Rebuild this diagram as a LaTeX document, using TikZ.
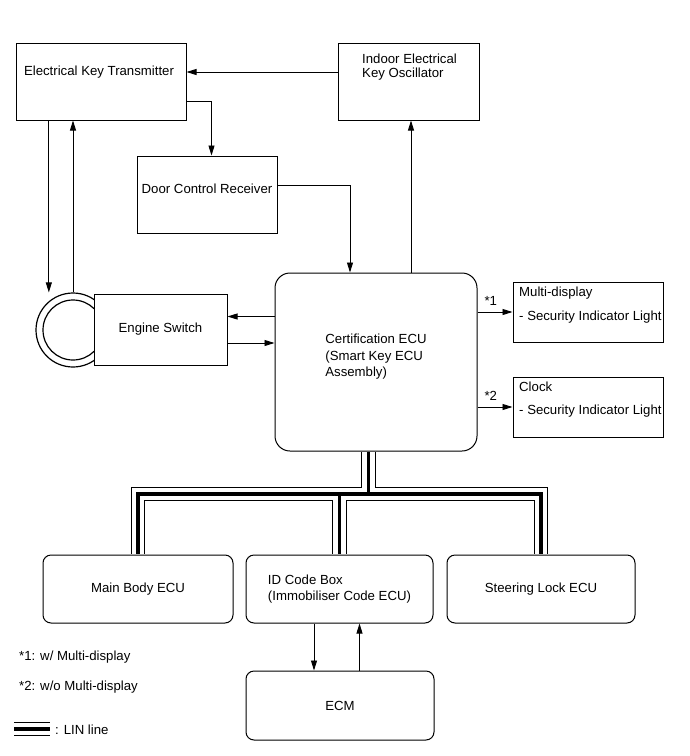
\documentclass[tikz,border=0pt]{standalone}
\usepackage{fontspec}
\setmainfont{Liberation Sans}
\usetikzlibrary{arrows.meta}

\begin{document}
\begin{tikzpicture}[
    x=1pt, y=-1pt,
    every node/.style={font=\fontsize{13.2}{16.5}\selectfont},
    box/.style={draw, line width=1pt, fill=white, inner sep=0pt},
    rbox/.style={box, rounded corners=8pt, align=left},
    txt/.style={inner sep=0pt, align=left},
    ringline/.style={draw, circle, line width=1.2pt, inner sep=0pt},
    flow/.style={-{Triangle[length=10pt, width=6pt]}, line width=0.9pt},
    lin/.style={line width=3.6pt, preaction={draw, line width=14.6pt}, preaction={draw, white, line width=12.4pt}}
]
\useasboundingbox (0,0) rectangle (690,756);

% upper blocks
\node[box, minimum width=170pt, minimum height=77pt] (ekt) at (101,81.5) {};
\node[txt] (ekt-t) at (99,72) {Electrical Key Transmitter};
\node[box, minimum width=141pt, minimum height=77pt] (osc) at (408.5,81.5) {};
\node[txt, anchor=west, font=\fontsize{13.2}{14}\selectfont] (osc-t) at (362,67.5) {Indoor Electrical\\Key Oscillator};
\node[box, minimum width=140pt, minimum height=77pt] (dcr) at (207,194.5) {};
\node[txt] (dcr-t) at (207,189) {Door Control Receiver};

% engine switch with key ring
\node[ringline, minimum size=74pt] (ring) at (73,330) {};
\node[ringline, minimum size=60pt] (ring-in) at (73,330) {};
\node[box, minimum width=133pt, minimum height=71pt] (eng) at (160.5,329.5) {Engine Switch};

% certification ECU
\node[box, rounded corners=15pt, minimum width=202pt, minimum height=178pt] (cert) at (376,362) {};
\node[txt] (cert-t) at (376,357) {Certification ECU\\(Smart Key ECU\\Assembly)};

% indicator outputs
\node[box, minimum width=150pt, minimum height=60pt] (multi) at (588,312) {};
\node[txt, anchor=west] (multi-t) at (519,305) {Multi-display\\[7pt]- Security Indicator Light};
\node[box, minimum width=150pt, minimum height=60pt] (clock) at (588,407) {};
\node[txt, anchor=west] (clock-t) at (519,399.5) {Clock\\[7pt]- Security Indicator Light};

% LIN bus and lower ECUs
\coordinate (hub) at (368.5,494);
\node[rbox, minimum width=190pt, minimum height=68pt] (mainbody) at (138,589) {Main Body ECU};
\node[rbox, minimum width=187pt, minimum height=68pt] (idbox) at (339.5,589) {ID Code Box\\(Immobiliser Code ECU)};
\node[rbox, minimum width=188pt, minimum height=68pt] (steer) at (541,589) {Steering Lock ECU};
\node[rbox, minimum width=188pt, minimum height=69pt] (ecm) at (340,705.5) {ECM};
\draw[lin] ([yshift=-0.6pt]hub |- cert.south) -- (hub)
    ([yshift=0.6pt]mainbody.north) |- (hub) -| ([yshift=0.6pt]steer.north)
    ([yshift=0.6pt]idbox.north) -- (idbox.north |- hub);

% signal paths
\draw[flow] ([yshift=9.5pt]osc.west) -- ([yshift=9.5pt]osc.west -| ekt.east);
\draw[flow] ([yshift=-19.5pt]ekt.east) -| ([xshift=4.5pt]dcr.north);
\draw[flow] ([yshift=9.5pt]dcr.east) -| ([xshift=-26pt]cert.north);
\draw[flow] ([xshift=35pt]cert.north) -- ([xshift=35pt]cert.north |- osc.south);
\draw[flow] (ring.130 |- ekt.south) -- (ring.130 |- ring.north);
\draw[flow] (ring.north) -- (ring.north |- ekt.south);
\draw[flow] ([yshift=13pt]eng.east -| cert.west) -- ([yshift=13pt]eng.east);
\draw[flow] ([yshift=-13.5pt]eng.east) -- ([yshift=-13.5pt]eng.east -| cert.west);
\draw[flow] (multi.west -| cert.east) -- node[pos=0.38, above=3pt] (star1) {*1} (multi.west);
\draw[flow] (clock.west -| cert.east) -- node[pos=0.38, above=3pt] (star2) {*2} (clock.west);
\draw[flow] ([xshift=-25.5pt]idbox.south) -- ([xshift=-25.5pt]idbox.south |- ecm.north);
\draw[flow] ([xshift=19.5pt]ecm.north) -- ([xshift=19.5pt]ecm.north |- idbox.south);

% legend
\node[txt, anchor=west] (note1) at (19,657) {*1: w/ Multi-display};
\node[txt, anchor=west] (note2) at (19,687) {*2: w/o Multi-display};
\node[txt, anchor=west] (lin-t) at (55,730) {: LIN line};
\draw[lin] ([xshift=-41pt, yshift=1pt]lin-t.west) -- ([xshift=-5pt, yshift=1pt]lin-t.west);
\end{tikzpicture}
\end{document}
